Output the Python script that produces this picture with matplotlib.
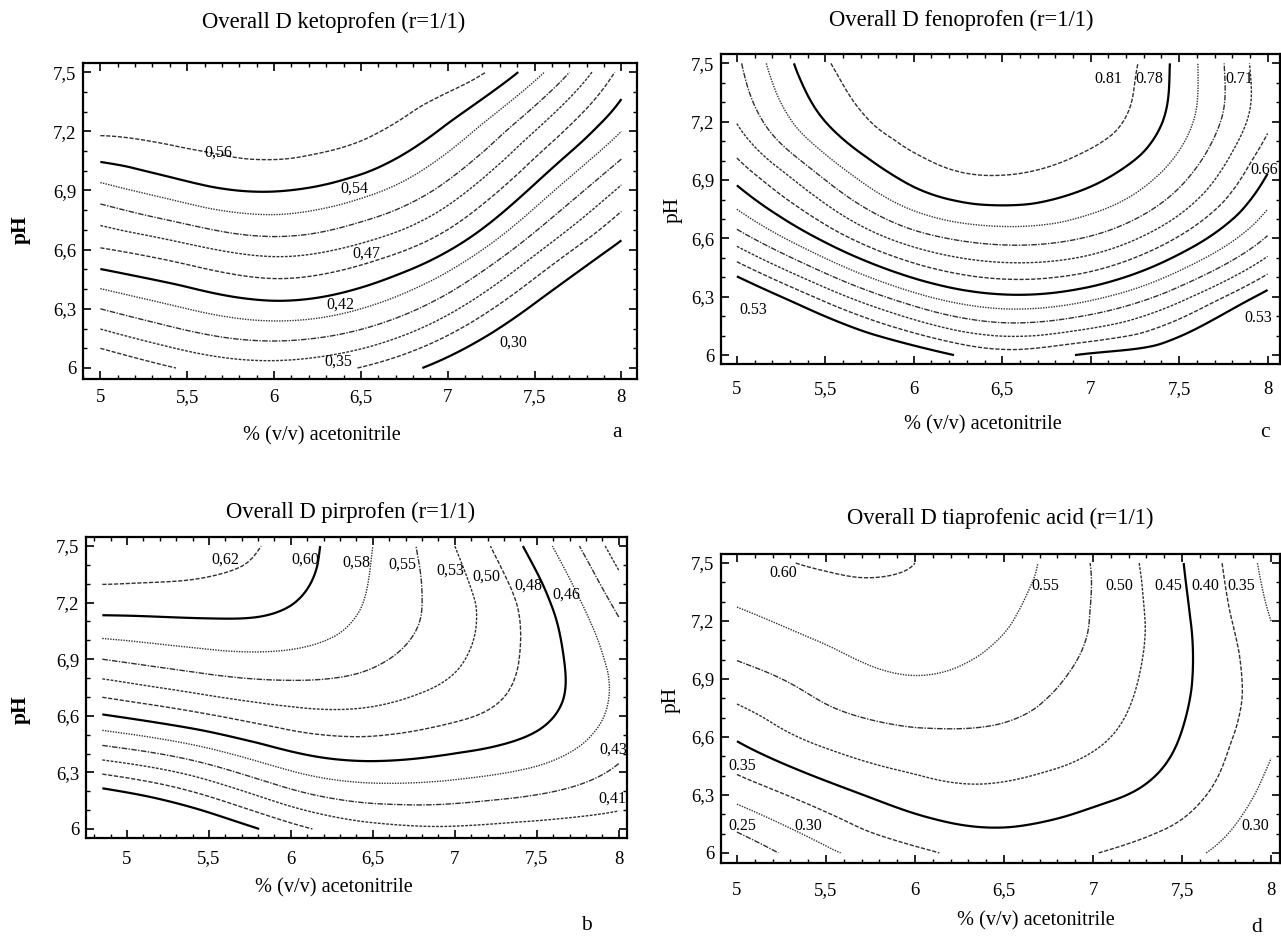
import numpy as np
import matplotlib
matplotlib.use('Agg')
import matplotlib.pyplot as plt
import matplotlib.tri as mtri
from matplotlib.ticker import MultipleLocator

plt.rcParams['font.family'] = ['Liberation Serif', 'DejaVu Serif']

# % (v/v) acetonitrile and pH of the experimental grid
acn = [5.0, 5.5, 6.0, 6.5, 7.0, 7.5, 8.0]
acn_pirp = [4.85, 5.5, 6.0, 6.5, 7.0, 7.5, 8.0]
ph = [6.0, 6.3, 6.6, 6.9, 7.2, 7.5]

# overall desirability D, one row per pH value
d_keto = [
    [0.300, 0.327, 0.338, 0.323, 0.288, 0.240, 0.190],
    [0.371, 0.395, 0.409, 0.395, 0.354, 0.295, 0.240],
    [0.440, 0.459, 0.474, 0.459, 0.420, 0.353, 0.292],
    [0.504, 0.527, 0.537, 0.521, 0.480, 0.412, 0.342],
    [0.563, 0.568, 0.572, 0.565, 0.530, 0.466, 0.395],
    [0.578, 0.580, 0.580, 0.580, 0.578, 0.522, 0.435],
]
d_feno = [
    [0.400, 0.469, 0.513, 0.547, 0.529, 0.508, 0.430],
    [0.497, 0.567, 0.625, 0.654, 0.640, 0.592, 0.522],
    [0.595, 0.664, 0.721, 0.742, 0.730, 0.680, 0.605],
    [0.663, 0.733, 0.789, 0.805, 0.788, 0.739, 0.654],
    [0.709, 0.783, 0.820, 0.825, 0.820, 0.770, 0.688],
    [0.728, 0.805, 0.830, 0.835, 0.832, 0.775, 0.690],
]
d_pirp = [
    [0.290, 0.335, 0.375, 0.400, 0.405, 0.400, 0.398],
    [0.387, 0.420, 0.454, 0.468, 0.463, 0.451, 0.428],
    [0.478, 0.502, 0.519, 0.521, 0.508, 0.487, 0.448],
    [0.552, 0.567, 0.569, 0.556, 0.532, 0.495, 0.447],
    [0.611, 0.610, 0.601, 0.572, 0.538, 0.490, 0.425],
    [0.645, 0.640, 0.612, 0.576, 0.528, 0.469, 0.395],
]
d_tiap = [
    [0.210, 0.290, 0.338, 0.370, 0.352, 0.315, 0.250],
    [0.316, 0.377, 0.425, 0.436, 0.412, 0.370, 0.280],
    [0.406, 0.465, 0.490, 0.490, 0.460, 0.398, 0.310],
    [0.480, 0.521, 0.547, 0.526, 0.484, 0.410, 0.320],
    [0.538, 0.569, 0.585, 0.555, 0.497, 0.410, 0.300],
    [0.585, 0.605, 0.600, 0.575, 0.497, 0.402, 0.280],
]

# contour levels
lev_keto = [0.560, 0.536, 0.513, 0.489, 0.466, 0.442, 0.418, 0.395, 0.371, 0.347, 0.324, 0.300]
lev_pirp = [0.624, 0.600, 0.576, 0.552, 0.528, 0.504, 0.480, 0.456, 0.432, 0.408, 0.384, 0.360]
lev_feno = [0.808, 0.783, 0.758, 0.733, 0.708, 0.683, 0.658, 0.633, 0.608, 0.583, 0.558, 0.533]
lev_tiap = [0.60, 0.55, 0.50, 0.45, 0.40, 0.35, 0.30, 0.25]

x_ticks = [5, 5.5, 6, 6.5, 7, 7.5, 8]
y_ticks = [6, 6.3, 6.6, 6.9, 7.2, 7.5]

dashes = [(0, (3.0, 1.2)), (0, (1.0, 0.9)), (0, (4.0, 1.0, 1.0, 1.0)), (0, (2.0, 1.0))]


def comma(v):
    return ('%g' % v).replace('.', ',')


def draw(ax, xs, z, levels, solid, lab, sep, xlim, ylim, xpad):
    X, Y = np.meshgrid(xs, ph)
    tri = mtri.Triangulation(X.ravel(), Y.ravel())
    refiner = mtri.UniformTriRefiner(tri)
    tri_f, z_f = refiner.refine_field(np.asarray(z).ravel(), subdiv=4)
    j = 0
    for k, lev in enumerate(levels):
        if k in solid:
            cs = ax.tricontour(tri_f, z_f, levels=[lev], colors='black', linewidths=1.6)
        else:
            cs = ax.tricontour(tri_f, z_f, levels=[lev], colors='#303030', linewidths=1.0)
            cs.set_linestyle(dashes[j % len(dashes)])
            j += 1
    for k, x, y in lab:
        txt = '%.2f' % levels[k]
        if sep == ',':
            txt = txt.replace('.', ',')
        ax.text(x, y, txt, fontsize=11.5, ha='center', va='center')

    ax.set_xlim(*xlim)
    ax.set_ylim(*ylim)
    ax.set_xticks(x_ticks)
    ax.set_xticklabels([comma(t) for t in x_ticks])
    ax.set_yticks(y_ticks)
    ax.set_yticklabels([comma(t) for t in y_ticks])
    ax.xaxis.set_minor_locator(MultipleLocator(0.1))
    ax.yaxis.set_minor_locator(MultipleLocator(0.1))
    ax.tick_params(which='both', direction='in', top=True, right=True, labelsize=13.5)
    ax.tick_params(which='major', length=6, width=1.2)
    ax.tick_params(which='minor', length=3, width=1.0)
    ax.tick_params(axis='x', pad=xpad)
    ax.tick_params(axis='y', pad=5)
    for s in ax.spines.values():
        s.set_linewidth(1.6)


fig = plt.figure(figsize=(12.81, 9.38), dpi=100)

ax_a = fig.add_axes([0.0648, 0.5959, 0.4325, 0.3369])
draw(ax_a, acn, d_keto, lev_keto, {1, 6, 11},
     [(0, 5.68, 7.09), (1, 6.46, 6.91), (4, 6.53, 6.58), (6, 6.38, 6.32),
      (9, 6.37, 6.03), (11, 7.38, 6.13)],
     ',', (4.90, 8.09), (5.944, 7.546), 7)

ax_c = fig.add_axes([0.5628, 0.6119, 0.4364, 0.3305])
draw(ax_c, acn, d_feno, lev_feno, {1, 6, 11},
     [(0, 7.10, 7.42), (1, 7.33, 7.42), (4, 7.84, 7.42), (6, 7.98, 6.95),
      (11, 5.09, 6.23), (11, 7.95, 6.19)],
     '.', (4.91, 8.07), (5.954, 7.548), 12)

ax_b = fig.add_axes([0.0671, 0.1066, 0.4223, 0.3209])
draw(ax_b, acn_pirp, d_pirp, lev_pirp, {1, 6, 11},
     [(0, 5.60, 7.43), (1, 6.09, 7.43), (2, 6.40, 7.41), (3, 6.68, 7.40),
      (4, 6.97, 7.37), (5, 7.19, 7.34), (6, 7.45, 7.29), (7, 7.68, 7.24),
      (8, 7.97, 6.42), (9, 7.96, 6.16)],
     ',', (4.75, 8.05), (5.952, 7.548), 9)

ax_d = fig.add_axes([0.5628, 0.0800, 0.4364, 0.3294])
draw(ax_d, acn, d_tiap, lev_tiap, {4},
     [(0, 5.26, 7.45), (1, 6.73, 7.38), (2, 7.15, 7.38), (3, 7.42, 7.38),
      (4, 7.63, 7.38), (5, 7.83, 7.38), (5, 5.03, 6.45), (6, 5.40, 6.14),
      (7, 5.03, 6.14), (6, 7.91, 6.14)],
     '.', (4.91, 8.05), (5.948, 7.547), 14)

# titles, axis labels and panel letters
tkw = dict(fontsize=16.3, ha='center', va='center')
fig.text(0.2607, 0.9765, 'Overall D ketoprofen (r=1/1)', **tkw)
fig.text(0.7502, 0.9787, 'Overall D fenoprofen (r=1/1)', **tkw)
fig.text(0.2740, 0.4542, 'Overall D pirprofen (r=1/1)', **tkw)
fig.text(0.7806, 0.4478, 'Overall D tiaprofenic acid (r=1/1)', **tkw)

xkw = dict(fontsize=14.6, ha='center', va='center')
fig.text(0.2514, 0.5352, '% (v/v) acetonitrile', **xkw)
fig.text(0.7674, 0.5469, '% (v/v) acetonitrile', **xkw)
fig.text(0.2607, 0.0533, '% (v/v) acetonitrile', **xkw)
fig.text(0.8087, 0.0180, '% (v/v) acetonitrile', **xkw)

fig.text(0.0164, 0.7548, 'pH', fontsize=15.5, fontweight='bold', rotation=90, ha='center', va='center')
fig.text(0.5254, 0.7760, 'pH', fontsize=15.5, rotation=90, ha='center', va='center')
fig.text(0.0164, 0.2430, 'pH', fontsize=15.5, fontweight='bold', rotation=90, ha='center', va='center')
fig.text(0.5238, 0.2537, 'pH', fontsize=15.5, rotation=90, ha='center', va='center')

lkw = dict(fontsize=15.5, ha='center')
fig.text(0.4817, 0.5394, 'a', va='center', **lkw)
fig.text(0.9875, 0.5394, 'c', va='center', **lkw)
fig.text(0.4575, 0.0030, 'b', va='bottom', **lkw)
fig.text(0.9813, 0.0010, 'd', va='bottom', **lkw)

fig.savefig('out.png', dpi=100)
